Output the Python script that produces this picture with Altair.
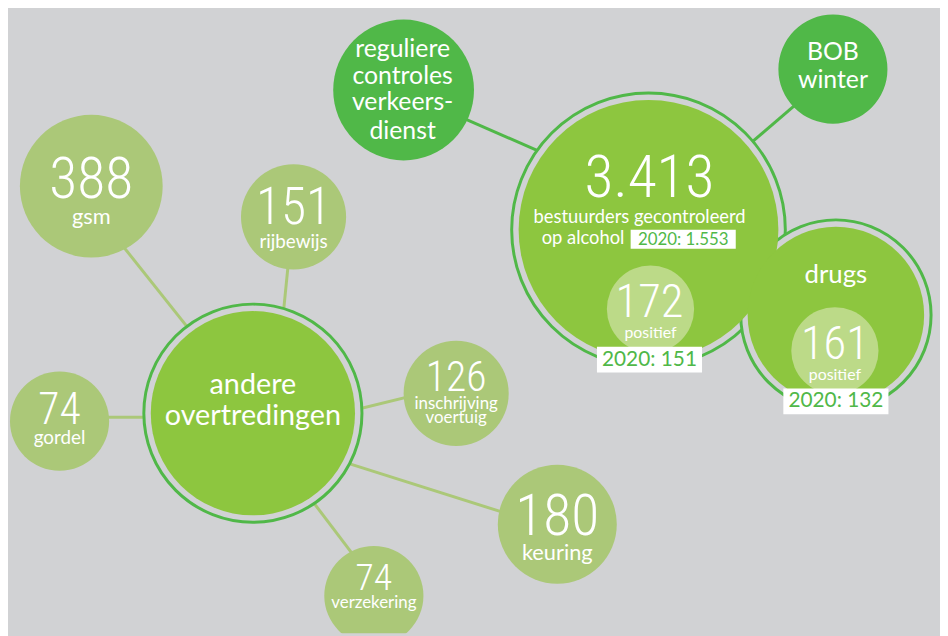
import math
import altair as alt
import pandas as pd

# ---------------- colours ----------------
BG = "#d1d2d4"
LEAF = "#abc878"
MAIN = "#8dc63f"
DARK = "#50b848"
INNER = "#bcda88"
WHITE = "#ffffff"

NUM_FONT = "Roboto Condensed, DejaVu Sans Condensed, Roboto, sans-serif"
TXT_FONT = "Lato"

# ---------------- values / labels ----------------
leaf_values = ["388", "151", "74", "126", "180", "74"]
leaf_labels = [["gsm"], ["rijbewijs"], ["gordel"], ["inschrijving", "voertuig"], ["keuring"], ["verzekering"]]

main_value = "3.413"
main_label = ["bestuurders gecontroleerd", "op alcohol"]
main_prev = "2020: 1.553"
alc_pos = "172"
alc_prev = "2020: 151"
drug_label = "drugs"
drug_pos = "161"
drug_prev = "2020: 132"
pos_label = "positief"
hub_label = ["andere", "overtredingen"]
reg_label = ["reguliere", "controles", "verkeers-", "dienst"]
bob_label = ["BOB", "winter"]

# ---------------- layout (pixel coordinates of the infographic) ----------------
leaf_cx = [92, 296, 60, 460, 562, 377]
leaf_cy = [185, 216, 422, 394, 526, 598]
leaf_r = [72, 53, 50, 53, 60, 50]
leaf_num_y = [197, 223, 425, 392, 537, 592]
leaf_num_fs = [58, 52, 44, 42, 58, 38]
leaf_lab_y = [[223], [247], [445], [410, 424], [562], [610]]
leaf_lab_fs = [22, 19, 19, 17, 22, 17]

hub = (255, 414, 110, 103)          # cx, cy, ring r, fill r
alc = (654, 229, 138, 131)
drug = (843, 315, 96, 89)
reg = (407, 88, 71)
bob = (840, 67, 55)
alc_in = (656, 309, 44)
drug_in = (842, 351, 44)

links = [
    # x, y, x2, y2, colour
    (110, 228, 200, 341, LEAF),
    (292, 250, 283, 340, LEAF),
    (90, 418, 170, 418, LEAF),
    (340, 415, 430, 393, LEAF),
    (340, 461, 520, 518, LEAF),
    (310, 496, 360, 562, LEAF),
    (455, 111, 560, 157, DARK),
    (745, 152, 815, 92, DARK),
]

W, H = 940, 628
xs = alt.Scale(domain=[8, 8 + W], range=[0, W])
ys = alt.Scale(domain=[8, 8 + H], range=[0, H])


def sz(r):
    return (2 * r) ** 2


# ---------------- circles table ----------------
rows = []
o = 0
def add_circle(x, y, r, fill, stroke, sw):
    global o
    rows.append(dict(x=x, y=y, s=sz(r), fill=fill, stroke=stroke, sw=sw, o=o))
    o += 1

add_circle(hub[0], hub[1], hub[2], BG, DARK, 3)
add_circle(hub[0], hub[1], hub[3], MAIN, MAIN, 0)
for cx, cy, r in zip(leaf_cx, leaf_cy, leaf_r):
    add_circle(cx, cy, r, LEAF, LEAF, 0)
add_circle(reg[0], reg[1], reg[2], DARK, DARK, 0)
add_circle(bob[0], bob[1], bob[2], DARK, DARK, 0)
add_circle(alc[0], alc[1], alc[2], BG, DARK, 3)
add_circle(drug[0], drug[1], drug[2], BG, DARK, 3)
add_circle(alc[0], alc[1], alc[3], MAIN, MAIN, 0)
add_circle(drug[0], drug[1], drug[3], MAIN, MAIN, 0)
add_circle(alc_in[0], alc_in[1], alc_in[2], INNER, INNER, 0)
add_circle(drug_in[0], drug_in[1], drug_in[2], INNER, INNER, 0)
circles = pd.DataFrame(rows)

link_df = pd.DataFrame(links, columns=["x", "y", "x2", "y2", "c"])

# ---------------- text tables ----------------
num_rows = []
for v, cx, y, fs in zip(leaf_values, leaf_cx, leaf_num_y, leaf_num_fs):
    num_rows.append(dict(x=cx, y=y, t=v, fs=fs, c=WHITE))
num_rows.append(dict(x=655, y=196, t=main_value, fs=60, c=WHITE))
num_rows.append(dict(x=655, y=317, t=alc_pos, fs=47, c=WHITE))
num_rows.append(dict(x=842, y=359, t=drug_pos, fs=47, c=WHITE))
num_df = pd.DataFrame(num_rows)

txt_rows = []
for labs, cx, ys_, fs in zip(leaf_labels, leaf_cx, leaf_lab_y, leaf_lab_fs):
    for lab, y in zip(labs, ys_):
        txt_rows.append(dict(x=cx, y=y, t=lab, fs=fs, c=WHITE))
for lab, y in zip(hub_label, [395, 426]):
    txt_rows.append(dict(x=255, y=y, t=lab, fs=29, c=WHITE))
for lab, y in zip(reg_label, [55, 82, 108, 137]):
    txt_rows.append(dict(x=406, y=y, t=lab, fs=25, c=WHITE))
for lab, y in zip(bob_label, [58, 86]):
    txt_rows.append(dict(x=840, y=y, t=lab, fs=25, c=WHITE))
txt_rows.append(dict(x=645, y=222, t=main_label[0], fs=18.5, c=WHITE))
txt_rows.append(dict(x=588, y=243, t=main_label[1], fs=18.5, c=WHITE))
txt_rows.append(dict(x=843, y=283, t=drug_label, fs=26, c=WHITE))
txt_rows.append(dict(x=656, y=338, t=pos_label, fs=16, c=WHITE))
txt_rows.append(dict(x=842, y=380, t=pos_label, fs=16, c=WHITE))
# boxed comparison labels
txt_rows.append(dict(x=689, y=244, t=main_prev, fs=17, c=DARK))
txt_rows.append(dict(x=655, y=366, t=alc_prev, fs=21, c=DARK))
txt_rows.append(dict(x=843, y=408, t=drug_prev, fs=21, c=DARK))
txt_df = pd.DataFrame(txt_rows)

box_df = pd.DataFrame([
    dict(x=636, x2=742, y=229, y2=248),
    dict(x=602, x2=708, y=347, y2=373),
    dict(x=790, x2=896, y=389, y2=415),
])

# ---------------- marks ----------------
link_layer = alt.Chart(link_df).mark_rule(strokeWidth=3, strokeCap="butt").encode(
    x=alt.X("x:Q", scale=xs, axis=None),
    y=alt.Y("y:Q", scale=ys, axis=None),
    x2="x2:Q",
    y2="y2:Q",
    color=alt.Color("c:N", scale=None),
)

circle_layer = alt.Chart(circles).mark_point(filled=True, shape="circle", opacity=1, clip=True).encode(
    x=alt.X("x:Q", scale=xs, axis=None),
    y=alt.Y("y:Q", scale=ys, axis=None),
    size=alt.Size("s:Q", scale=None),
    fill=alt.Fill("fill:N", scale=None),
    stroke=alt.Stroke("stroke:N", scale=None),
    strokeWidth=alt.StrokeWidth("sw:Q", scale=None),
    order=alt.Order("o:Q"),
)

box_layer = alt.Chart(box_df).mark_rect(color=WHITE).encode(
    x=alt.X("x:Q", scale=xs, axis=None),
    x2="x2:Q",
    y=alt.Y("y:Q", scale=ys, axis=None),
    y2="y2:Q",
)

num_layer = alt.Chart(num_df).mark_text(font=NUM_FONT, fontWeight=300, baseline="alphabetic", align="center").encode(
    x=alt.X("x:Q", scale=xs, axis=None),
    y=alt.Y("y:Q", scale=ys, axis=None),
    text="t:N",
    size=alt.Size("fs:Q", scale=None),
    color=alt.Color("c:N", scale=None),
)

txt_layer = alt.Chart(txt_df).mark_text(font=TXT_FONT, baseline="alphabetic", align="center").encode(
    x=alt.X("x:Q", scale=xs, axis=None),
    y=alt.Y("y:Q", scale=ys, axis=None),
    text="t:N",
    size=alt.Size("fs:Q", scale=None),
    color=alt.Color("c:N", scale=None),
)

chart = alt.layer(link_layer, circle_layer, box_layer, num_layer, txt_layer).properties(
    width=W, height=H, padding=0, autosize="none", background=BG
).configure_view(stroke=None, fill=BG)

chart.save("out.html", embed_options={"renderer": "svg", "actions": False})
